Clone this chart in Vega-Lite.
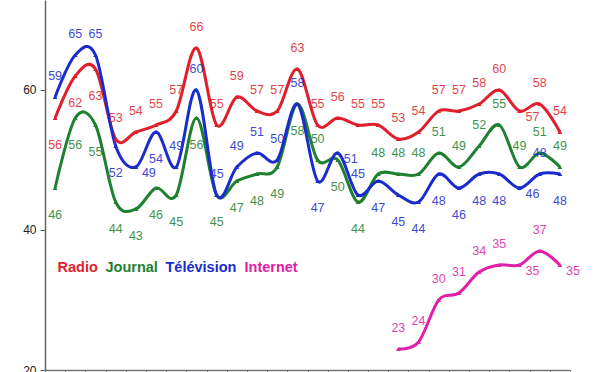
{
  "$schema": "https://vega.github.io/schema/vega-lite/v6.json",
  "width": 525,
  "height": 370,
  "autosize": {"type": "none"},
  "padding": {"left": 45, "top": 0, "right": 30, "bottom": 2},
  "background": "white",
  "config": {"view": {"stroke": null}, "font": "Liberation Sans"},
  "data": {"values": [
    {"i":0,"serie":"Radio","v":56,"pos":"b"},{"i":1,"serie":"Radio","v":62,"pos":"b"},{"i":2,"serie":"Radio","v":63,"pos":"b"},{"i":3,"serie":"Radio","v":53,"pos":"a"},{"i":4,"serie":"Radio","v":54,"pos":"a"},{"i":5,"serie":"Radio","v":55,"pos":"a"},{"i":6,"serie":"Radio","v":57,"pos":"a"},{"i":7,"serie":"Radio","v":66,"pos":"a"},{"i":8,"serie":"Radio","v":55,"pos":"a"},{"i":9,"serie":"Radio","v":59,"pos":"a"},{"i":10,"serie":"Radio","v":57,"pos":"a"},{"i":11,"serie":"Radio","v":57,"pos":"a"},{"i":12,"serie":"Radio","v":63,"pos":"a"},{"i":13,"serie":"Radio","v":55,"pos":"a"},{"i":14,"serie":"Radio","v":56,"pos":"a"},{"i":15,"serie":"Radio","v":55,"pos":"a"},{"i":16,"serie":"Radio","v":55,"pos":"a"},{"i":17,"serie":"Radio","v":53,"pos":"a"},{"i":18,"serie":"Radio","v":54,"pos":"a"},{"i":19,"serie":"Radio","v":57,"pos":"a"},{"i":20,"serie":"Radio","v":57,"pos":"a"},{"i":21,"serie":"Radio","v":58,"pos":"a"},{"i":22,"serie":"Radio","v":60,"pos":"a"},{"i":23,"serie":"Radio","v":57,"pos":"r"},{"i":24,"serie":"Radio","v":58,"pos":"a"},{"i":25,"serie":"Radio","v":54,"pos":"a"},
    {"i":0,"serie":"Journal","v":46,"pos":"b"},{"i":1,"serie":"Journal","v":56,"pos":"b"},{"i":2,"serie":"Journal","v":55,"pos":"b"},{"i":3,"serie":"Journal","v":44,"pos":"b"},{"i":4,"serie":"Journal","v":43,"pos":"b"},{"i":5,"serie":"Journal","v":46,"pos":"b"},{"i":6,"serie":"Journal","v":45,"pos":"b"},{"i":7,"serie":"Journal","v":56,"pos":"b"},{"i":8,"serie":"Journal","v":45,"pos":"b"},{"i":9,"serie":"Journal","v":47,"pos":"b"},{"i":10,"serie":"Journal","v":48,"pos":"b"},{"i":11,"serie":"Journal","v":49,"pos":"b"},{"i":12,"serie":"Journal","v":58,"pos":"b"},{"i":13,"serie":"Journal","v":50,"pos":"a"},{"i":14,"serie":"Journal","v":50,"pos":"b"},{"i":15,"serie":"Journal","v":44,"pos":"b"},{"i":16,"serie":"Journal","v":48,"pos":"a"},{"i":17,"serie":"Journal","v":48,"pos":"a"},{"i":18,"serie":"Journal","v":48,"pos":"a"},{"i":19,"serie":"Journal","v":51,"pos":"a"},{"i":20,"serie":"Journal","v":49,"pos":"a"},{"i":21,"serie":"Journal","v":52,"pos":"a"},{"i":22,"serie":"Journal","v":55,"pos":"a"},{"i":23,"serie":"Journal","v":49,"pos":"a"},{"i":24,"serie":"Journal","v":51,"pos":"a"},{"i":25,"serie":"Journal","v":49,"pos":"a"},
    {"i":0,"serie":"Télévision","v":59,"pos":"a"},{"i":1,"serie":"Télévision","v":65,"pos":"a"},{"i":2,"serie":"Télévision","v":65,"pos":"a"},{"i":3,"serie":"Télévision","v":52,"pos":"b"},{"i":4,"serie":"Télévision","v":49,"pos":"r"},{"i":5,"serie":"Télévision","v":54,"pos":"b"},{"i":6,"serie":"Télévision","v":49,"pos":"a"},{"i":7,"serie":"Télévision","v":60,"pos":"a"},{"i":8,"serie":"Télévision","v":45,"pos":"a"},{"i":9,"serie":"Télévision","v":49,"pos":"a"},{"i":10,"serie":"Télévision","v":51,"pos":"a"},{"i":11,"serie":"Télévision","v":50,"pos":"a"},{"i":12,"serie":"Télévision","v":58,"pos":"a"},{"i":13,"serie":"Télévision","v":47,"pos":"b"},{"i":14,"serie":"Télévision","v":51,"pos":"r"},{"i":15,"serie":"Télévision","v":45,"pos":"a"},{"i":16,"serie":"Télévision","v":47,"pos":"b"},{"i":17,"serie":"Télévision","v":45,"pos":"b"},{"i":18,"serie":"Télévision","v":44,"pos":"b"},{"i":19,"serie":"Télévision","v":48,"pos":"b"},{"i":20,"serie":"Télévision","v":46,"pos":"b"},{"i":21,"serie":"Télévision","v":48,"pos":"b"},{"i":22,"serie":"Télévision","v":48,"pos":"b"},{"i":23,"serie":"Télévision","v":46,"pos":"r"},{"i":24,"serie":"Télévision","v":48,"pos":"a"},{"i":25,"serie":"Télévision","v":48,"pos":"b"},
    {"i":17,"serie":"Internet","v":23,"pos":"a"},{"i":18,"serie":"Internet","v":24,"pos":"a"},{"i":19,"serie":"Internet","v":30,"pos":"a"},{"i":20,"serie":"Internet","v":31,"pos":"a"},{"i":21,"serie":"Internet","v":34,"pos":"a"},{"i":22,"serie":"Internet","v":35,"pos":"a"},{"i":23,"serie":"Internet","v":35,"pos":"r"},{"i":24,"serie":"Internet","v":37,"pos":"a"},{"i":25,"serie":"Internet","v":35,"pos":"r"}
  ]},
  "encoding": {
    "x": {"field": "i", "type": "quantitative",
      "scale": {"domain": [-0.5, 25.5], "nice": false, "zero": false},
      "axis": {"title": null, "labels": false, "grid": false,
        "values": [-0.5,0.5,1.5,2.5,3.5,4.5,5.5,6.5,7.5,8.5,9.5,10.5,11.5,12.5,13.5,14.5,15.5,16.5,17.5,18.5,19.5,20.5,21.5,22.5,23.5,24.5,25.5],
        "tickSize": 5, "tickColor": "#777", "domainColor": "#777", "domainWidth": 1.5}},
    "y": {"field": "v", "type": "quantitative",
      "scale": {"domain": [20, 72.857], "nice": false, "zero": false},
      "axis": {"title": null, "values": [20, 40, 60], "grid": false, "tickSize": 5,
        "labelFontSize": 12, "labelColor": "#222", "labelPadding": 4,
        "tickColor": "#555", "domainColor": "#666", "domainWidth": 1.5}},
    "color": {"field": "serie", "type": "nominal",
      "scale": {"domain": ["Radio", "Journal", "Télévision", "Internet"],
        "range": ["#e01e2c", "#1e8030", "#1a2ccc", "#e020a8"]},
      "legend": {"title": null, "orient": "none", "direction": "horizontal",
        "legendX": 12, "legendY": 261, "symbolSize": 1, "symbolStrokeWidth": 0.01,
        "symbolOpacity": 0, "labelOffset": -14, "columnPadding": 7, "gridAlign": "each",
        "labelFontSize": 14.5, "labelFontWeight": "bold", "labelFont": "Liberation Sans",
        "encode": {"labels": {"update": {"fill": {"scale": "color", "field": "value"}}}}}}
  },
  "layer": [
    {"mark": {"type": "line", "interpolate": "cardinal", "strokeWidth": 3}},
    {"mark": {"type": "point", "shape": "triangle-up", "filled": true, "size": 22, "opacity": 1}},
    {"transform": [{"filter": "datum.pos == 'a'"}],
      "mark": {"type": "text", "dy": -21, "fontSize": 12.5, "opacity": 0.85},
      "encoding": {"text": {"field": "v"}}},
    {"transform": [{"filter": "datum.pos == 'b'"}],
      "mark": {"type": "text", "dy": 27, "fontSize": 12.5, "opacity": 0.85},
      "encoding": {"text": {"field": "v"}}},
    {"transform": [{"filter": "datum.pos == 'r'"}],
      "mark": {"type": "text", "dx": 13, "dy": 6, "fontSize": 12.5, "opacity": 0.85},
      "encoding": {"text": {"field": "v"}}}
  ]
}
